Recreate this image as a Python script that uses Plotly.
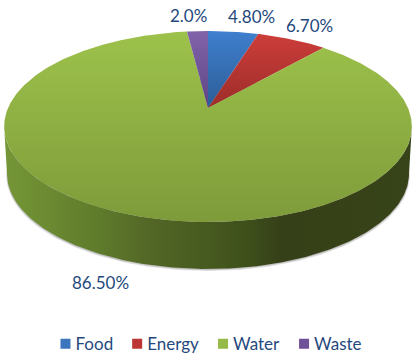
import numpy as np
import plotly.graph_objects as go

categories = ["Food", "Energy", "Water", "Waste"]
values = [4.8, 6.7, 86.5, 2.0]
labels = ["4.80%", "6.70%", "86.50%", "2.0%"]

FONT = "Lato"
INK = "#1F497D"
swatch = ["#3A75BD", "#BE3633", "#96BA48", "#71509A"]
top_light = ["#3F7FCE", "#CC3D39", "#9DC24B", "#8063A9"]
top_dark = ["#2C5D96", "#9C2D2A", "#7E9B3A", "#5F4585"]
label_pos = [(251, 16), (309, 25), (100, 282), (188, 15)]

CX, CY, R, C, A = 208.0, 108.0, 200.0, -0.1937, 91.9
DEPTH, BOTTOM_SCALE = 47.0, 0.986


def project(theta, depth=0.0, scale=1.0):
    """theta clockwise from 12 o'clock on the pie disc -> tilted, perspective view."""
    u, v = np.sin(theta), -np.cos(theta)
    d = 1 + C * v
    return CX + scale * R * u / d, CY + A * v / d + depth


def frac(i):
    return 2 * np.pi * sum(values[:i]) / sum(values)


fig = go.Figure()

# soft shadow beneath the wall
full = np.linspace(0, 2 * np.pi, 361)
for off in (3.0, 2.0, 1.0):
    x, y = project(full, DEPTH + off * 0.7, BOTTOM_SCALE + off * 0.0012)
    fig.add_trace(go.Scatter(x=x, y=y, mode="lines", fill="toself", line=dict(width=0),
                             fillcolor="rgba(60,60,60,0.13)", showlegend=False, hoverinfo="skip"))

# side wall: front half between the widest points of the projected disc
widest = np.arcsin(-C)
front = np.linspace(np.pi / 2 + widest, 3 * np.pi / 2 - widest, 240)
xt, yt = project(front)
xb, yb = project(front, DEPTH, BOTTOM_SCALE)
fig.add_trace(go.Scatter(
    x=np.r_[xt, xb[::-1]], y=np.r_[yt, yb[::-1]], mode="lines", fill="toself",
    line=dict(width=0), showlegend=False, hoverinfo="skip",
    fillgradient=dict(type="horizontal", start=4, stop=412, colorscale=[
        [0.0, "#759637"], [0.1, "#6C8B32"], [0.24, "#5E7A2B"], [0.36, "#526626"],
        [0.5, "#475A1F"], [0.6, "#3E4F1B"], [0.68, "#364018"], [1.0, "#374318"]]),
))

# top surface wedges
for i, name in enumerate(categories):
    th = np.linspace(frac(i), frac(i + 1), max(8, int(values[i] * 8)))
    ex, ey = project(th)
    x = np.r_[CX, ex, CX]
    y = np.r_[CY, ey, CY]
    fig.add_trace(go.Scatter(
        x=x, y=y, mode="lines", fill="toself", line=dict(width=0), name=name,
        showlegend=False, hoverinfo="skip",
        fillgradient=dict(type="vertical", start=float(y.min()), stop=float(y.max()),
                          colorscale=[[0, top_light[i]], [1, top_dark[i]]]),
    ))

# legend entries
for i, name in enumerate(categories):
    fig.add_trace(go.Scatter(x=[None], y=[None], mode="markers", name=name,
                             marker=dict(symbol="square", size=10, color=swatch[i])))

for (px, py), text in zip(label_pos, labels):
    fig.add_annotation(x=px, y=py, text=text, showarrow=False, xanchor="center", yanchor="middle",
                       font=dict(family=FONT, size=17, color=INK))

fig.update_layout(
    width=420, height=360, margin=dict(l=0, r=0, t=0, b=0, autoexpand=False),
    paper_bgcolor="white", plot_bgcolor="white",
    xaxis=dict(range=[0, 420], visible=False, fixedrange=True),
    yaxis=dict(range=[360, 0], visible=False, fixedrange=True),
    legend=dict(orientation="h", x=0.519, xanchor="center", y=0.044, yanchor="middle",
                font=dict(family=FONT, size=17, color=INK), itemwidth=30,
                bgcolor="rgba(0,0,0,0)"),
)

# Page margin off; legend keys sit closer to their text, entries closer together.
post = """
document.body.style.margin = '0';
document.documentElement.style.overflow = 'hidden';
var gd = document.getElementById('{plot_id}');
gd.querySelectorAll('.legend .traces').forEach(function (t, i) {
  var m = /translate\\(([-\\d.]+),\\s*([-\\d.]+)\\)/.exec(t.getAttribute('transform'));
  t.setAttribute('transform', 'translate(' + (parseFloat(m[1]) - 11 * i) + ',' + m[2] + ')');
  t.querySelector('.legendsymbols').setAttribute('transform', 'translate(10,0)');
});
"""
fig.write_html("out.html", post_script=post, config={"displayModeBar": False})
